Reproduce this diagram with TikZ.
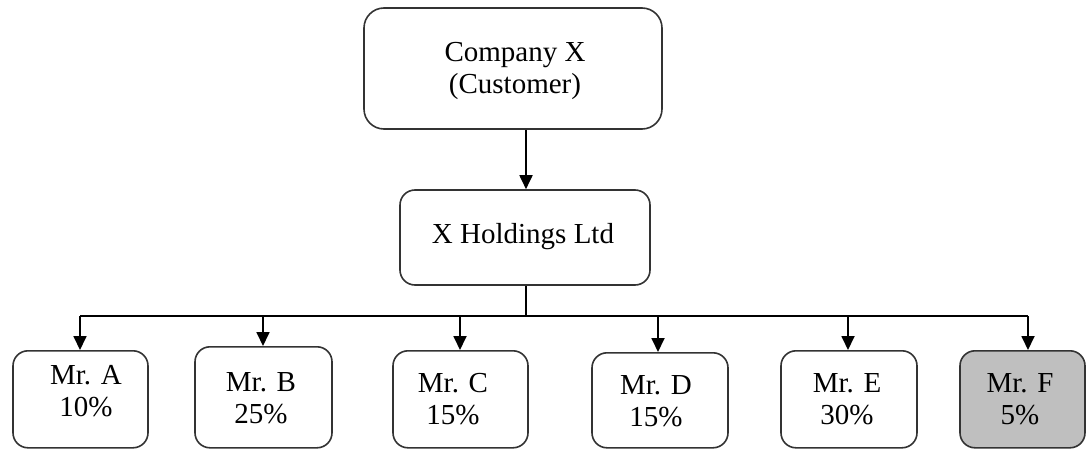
\documentclass[tikz,border=0pt]{standalone}
\usepackage{fontspec}
\setmainfont{Liberation Serif}
\usetikzlibrary{arrows.meta}

\begin{document}
\begin{tikzpicture}[x=1pt, y=-1pt,
  box/.style={draw=black!80, line width=1.6pt, rounded corners=15pt},
  lbl/.style={anchor=north, inner sep=0pt, align=center,
              font=\fontsize{29}{32}\selectfont},
  link/.style={draw=black, line width=1.8pt},
  tip/.style={-{Triangle[length=14pt,width=13pt]}}]
  \useasboundingbox (0,0) rectangle (1088,450);

  % top level: the customer
  \node[box, rounded corners=20pt, minimum width=298pt, minimum height=121pt,
        inner sep=0pt] (cust) at (513,68.5) {};
  \node[lbl] (custT) at (515,42) {Company X\\(Customer)};

  % holding company
  \node[box, minimum width=250pt, minimum height=95pt, inner sep=0pt]
        (hold) at (525,237.5) {};
  \node[lbl] (holdT) at (523,223.5) {X Holdings Ltd};

  % shareholders
  \foreach \n/\x/\w/\t/\tx/\ty/\a/\b/\f in {
      A/80.5/135/350/86/365/Mr. A/10\%/white,
      B/263.5/137/346/261/372/Mr. B/25\%/white,
      C/460.5/135/350/453/373/Mr. C/15\%/white,
      D/660/136/352/656/375/Mr. D/15\%/white,
      E/849/136/350/847/373/Mr. E/30\%/white,
      F/1022.5/125/350/1020/373/Mr. F/5\%/black!25}{
    \pgfmathsetmacro\hh{447-\t}
    \node[box, fill=\f, minimum width=\w pt, minimum height=\hh pt,
          inner sep=0pt, anchor=north] (p\n) at (\x,\t) {};
    \node[lbl] (p\n T) at (\tx,\ty) {\a\\\b};
  }

  % bus coordinates
  \coordinate (busL) at (80,316);
  \coordinate (busR) at (1028,316);
  \coordinate (busM) at (526,316);

  % connectors
  \draw[link, tip] (526,0 |- cust.south) -- (526,0 |- hold.north);
  \draw[link] (526,0 |- hold.south) -- (busM);
  \draw[link] (busL) -- (busR);
  \foreach \n/\x in {A/80,B/263,C/460,D/658,E/848,F/1028}
    \draw[link, tip] (\x,316) -- (\x,0 |- p\n.north);
\end{tikzpicture}
\end{document}
